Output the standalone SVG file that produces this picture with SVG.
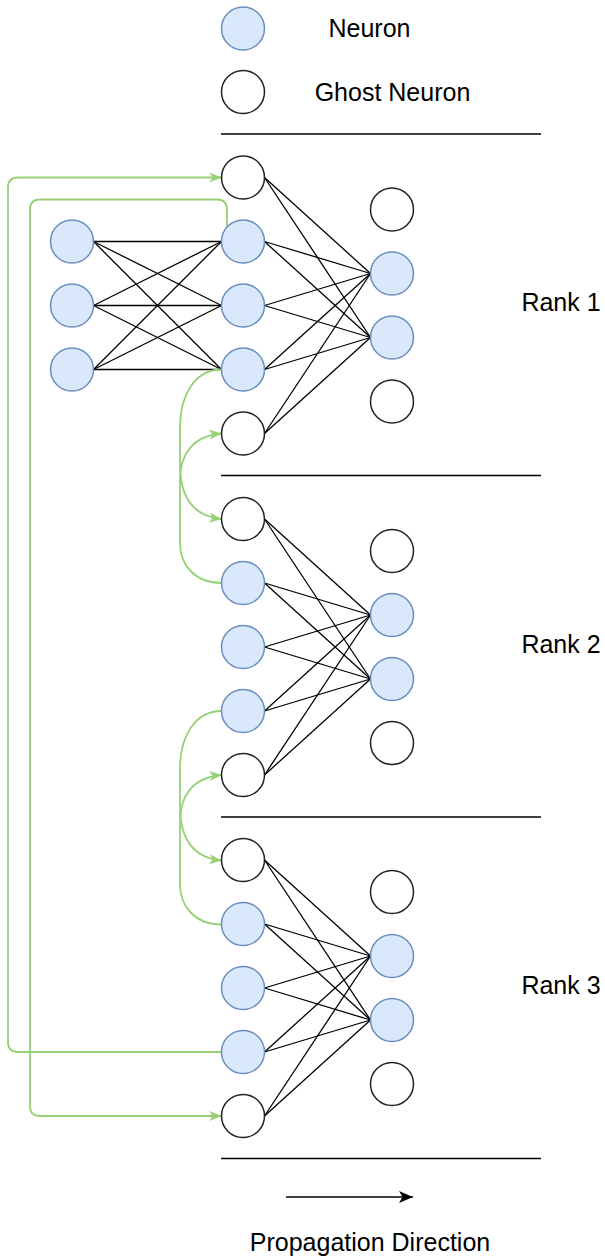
<svg xmlns="http://www.w3.org/2000/svg" width="605" height="1260" viewBox="0 0 605 1260">
<style>
.n{fill:#dae8fc;stroke:#6c8ebf;stroke-width:1.5}
.g{fill:#ffffff;stroke:#222;stroke-width:1.5}
.e{stroke:#000;stroke-width:1.3;fill:none}
.gr{stroke:#97D077;stroke-width:1.8;fill:none}
.div{stroke:#000;stroke-width:1.6}
.t{font-family:"Liberation Sans",Arial,sans-serif;font-size:25px;fill:#000;text-anchor:middle}
</style>
<defs>
<marker id="ga" markerUnits="userSpaceOnUse" markerWidth="14" markerHeight="12" refX="12" refY="5" orient="auto" overflow="visible">
<path d="M0,0 L12,5 L0,10 L3,5 Z" fill="#97D077"/>
</marker>
<marker id="ba" markerUnits="userSpaceOnUse" markerWidth="16" markerHeight="14" refX="14" refY="6" orient="auto" overflow="visible">
<path d="M0,0 L14,6 L0,12 L3.5,6 Z" fill="#000"/>
</marker>
</defs>

<g id="legend">
<g id="legend-neuron"><circle class="n" cx="243" cy="28.5" r="21.5"/><text class="t" x="369.5" y="37">Neuron</text></g>
<g id="legend-ghost"><circle class="g" cx="243" cy="92" r="21.5"/><text class="t" x="392.5" y="100.5">Ghost Neuron</text></g>
</g>

<g id="dividers">
<line class="div" x1="221" y1="134" x2="541" y2="134"/>
<line class="div" x1="221" y1="475.5" x2="541" y2="475.5"/>
<line class="div" x1="221" y1="817" x2="541" y2="817"/>
<line class="div" x1="221" y1="1158.5" x2="541" y2="1158.5"/>
</g>

<g id="labels">
<text id="rank1" class="t" x="561" y="311">Rank 1</text>
<text id="rank2" class="t" x="561" y="652.5">Rank 2</text>
<text id="rank3" class="t" x="561" y="993.5">Rank 3</text>
<text id="prop-label" class="t" x="370" y="1251">Propagation Direction</text>
</g>

<g id="connectors">
<!-- rank 1 input to hidden -->
<line class="e" x1="93.5" y1="241.5" x2="221.5" y2="241.5"/>
<line class="e" x1="93.5" y1="241.5" x2="221.5" y2="305.5"/>
<line class="e" x1="93.5" y1="241.5" x2="221.5" y2="369.5"/>
<line class="e" x1="93.5" y1="305.5" x2="221.5" y2="241.5"/>
<line class="e" x1="93.5" y1="305.5" x2="221.5" y2="305.5"/>
<line class="e" x1="93.5" y1="305.5" x2="221.5" y2="369.5"/>
<line class="e" x1="93.5" y1="369.5" x2="221.5" y2="241.5"/>
<line class="e" x1="93.5" y1="369.5" x2="221.5" y2="305.5"/>
<line class="e" x1="93.5" y1="369.5" x2="221.5" y2="369.5"/>
<!-- rank 1 hidden to output -->
<line class="e" x1="264.5" y1="177.5" x2="370.5" y2="273.5"/>
<line class="e" x1="264.5" y1="177.5" x2="370.5" y2="337.5"/>
<line class="e" x1="264.5" y1="241.5" x2="370.5" y2="273.5"/>
<line class="e" x1="264.5" y1="241.5" x2="370.5" y2="337.5"/>
<line class="e" x1="264.5" y1="305.5" x2="370.5" y2="273.5"/>
<line class="e" x1="264.5" y1="305.5" x2="370.5" y2="337.5"/>
<line class="e" x1="264.5" y1="369.5" x2="370.5" y2="273.5"/>
<line class="e" x1="264.5" y1="369.5" x2="370.5" y2="337.5"/>
<line class="e" x1="264.5" y1="433.5" x2="370.5" y2="273.5"/>
<line class="e" x1="264.5" y1="433.5" x2="370.5" y2="337.5"/>
<!-- rank 2 -->
<line class="e" x1="264.5" y1="519" x2="370.5" y2="615"/>
<line class="e" x1="264.5" y1="519" x2="370.5" y2="679"/>
<line class="e" x1="264.5" y1="583" x2="370.5" y2="615"/>
<line class="e" x1="264.5" y1="583" x2="370.5" y2="679"/>
<line class="e" x1="264.5" y1="647" x2="370.5" y2="615"/>
<line class="e" x1="264.5" y1="647" x2="370.5" y2="679"/>
<line class="e" x1="264.5" y1="711" x2="370.5" y2="615"/>
<line class="e" x1="264.5" y1="711" x2="370.5" y2="679"/>
<line class="e" x1="264.5" y1="775" x2="370.5" y2="615"/>
<line class="e" x1="264.5" y1="775" x2="370.5" y2="679"/>
<!-- rank 3 -->
<line class="e" x1="264.5" y1="860" x2="370.5" y2="956"/>
<line class="e" x1="264.5" y1="860" x2="370.5" y2="1020"/>
<line class="e" x1="264.5" y1="924" x2="370.5" y2="956"/>
<line class="e" x1="264.5" y1="924" x2="370.5" y2="1020"/>
<line class="e" x1="264.5" y1="988" x2="370.5" y2="956"/>
<line class="e" x1="264.5" y1="988" x2="370.5" y2="1020"/>
<line class="e" x1="264.5" y1="1052" x2="370.5" y2="956"/>
<line class="e" x1="264.5" y1="1052" x2="370.5" y2="1020"/>
<line class="e" x1="264.5" y1="1116" x2="370.5" y2="956"/>
<line class="e" x1="264.5" y1="1116" x2="370.5" y2="1020"/>
<!-- ghost exchanges -->
<path class="gr" marker-end="url(#ga)" d="M221.5,1052 H18 Q8,1052 8,1042 V187.5 Q8,177.5 18,177.5 H221.5"/>
<path class="gr" marker-end="url(#ga)" d="M227,227 V209.5 Q227,199.5 217,199.5 H40 Q30,199.5 30,209.5 V1106 Q30,1116 40,1116 H221.5"/>
<path class="gr" marker-end="url(#ga)" d="M221.5,369.5 C195,369.5 180,395 180,427 L180,465 C180,495 192,516 221.5,519"/>
<path class="gr" marker-end="url(#ga)" d="M221.5,583 C195,583 180,565 180,543 L180,480 C180,455 192,436 221.5,433.5"/>
<path class="gr" marker-end="url(#ga)" d="M221.5,711 C195,711 180,736.5 180,768.5 L180,806.5 C180,836.5 192,857.5 221.5,860.5"/>
<path class="gr" marker-end="url(#ga)" d="M221.5,924.5 C195,924.5 180,906.5 180,884.5 L180,821.5 C180,796.5 192,777.5 221.5,775"/>
<!-- propagation direction -->
<line class="e" stroke-width="2" x1="286" y1="1197" x2="413" y2="1197" marker-end="url(#ba)"/>
</g>

<g id="rank1-nodes">
<g id="r1-in1"><circle class="n" cx="72" cy="241.5" r="21.5"/></g>
<g id="r1-in2"><circle class="n" cx="72" cy="305.5" r="21.5"/></g>
<g id="r1-in3"><circle class="n" cx="72" cy="369.5" r="21.5"/></g>
<g id="r1-h0"><circle class="g" cx="243" cy="177.5" r="21.5"/></g>
<g id="r1-h1"><circle class="n" cx="243" cy="241.5" r="21.5"/></g>
<g id="r1-h2"><circle class="n" cx="243" cy="305.5" r="21.5"/></g>
<g id="r1-h3"><circle class="n" cx="243" cy="369.5" r="21.5"/></g>
<g id="r1-h4"><circle class="g" cx="243" cy="433.5" r="21.5"/></g>
<g id="r1-o0"><circle class="g" cx="392" cy="209.5" r="21.5"/></g>
<g id="r1-o1"><circle class="n" cx="392" cy="273.5" r="21.5"/></g>
<g id="r1-o2"><circle class="n" cx="392" cy="337.5" r="21.5"/></g>
<g id="r1-o3"><circle class="g" cx="392" cy="401.5" r="21.5"/></g>
</g>
<g id="rank2-nodes">
<g id="r2-h0"><circle class="g" cx="243" cy="519" r="21.5"/></g>
<g id="r2-h1"><circle class="n" cx="243" cy="583" r="21.5"/></g>
<g id="r2-h2"><circle class="n" cx="243" cy="647" r="21.5"/></g>
<g id="r2-h3"><circle class="n" cx="243" cy="711" r="21.5"/></g>
<g id="r2-h4"><circle class="g" cx="243" cy="775" r="21.5"/></g>
<g id="r2-o0"><circle class="g" cx="392" cy="551" r="21.5"/></g>
<g id="r2-o1"><circle class="n" cx="392" cy="615" r="21.5"/></g>
<g id="r2-o2"><circle class="n" cx="392" cy="679" r="21.5"/></g>
<g id="r2-o3"><circle class="g" cx="392" cy="743" r="21.5"/></g>
</g>
<g id="rank3-nodes">
<g id="r3-h0"><circle class="g" cx="243" cy="860" r="21.5"/></g>
<g id="r3-h1"><circle class="n" cx="243" cy="924" r="21.5"/></g>
<g id="r3-h2"><circle class="n" cx="243" cy="988" r="21.5"/></g>
<g id="r3-h3"><circle class="n" cx="243" cy="1052" r="21.5"/></g>
<g id="r3-h4"><circle class="g" cx="243" cy="1116" r="21.5"/></g>
<g id="r3-o0"><circle class="g" cx="392" cy="892" r="21.5"/></g>
<g id="r3-o1"><circle class="n" cx="392" cy="956" r="21.5"/></g>
<g id="r3-o2"><circle class="n" cx="392" cy="1020" r="21.5"/></g>
<g id="r3-o3"><circle class="g" cx="392" cy="1084" r="21.5"/></g>
</g>
</svg>
